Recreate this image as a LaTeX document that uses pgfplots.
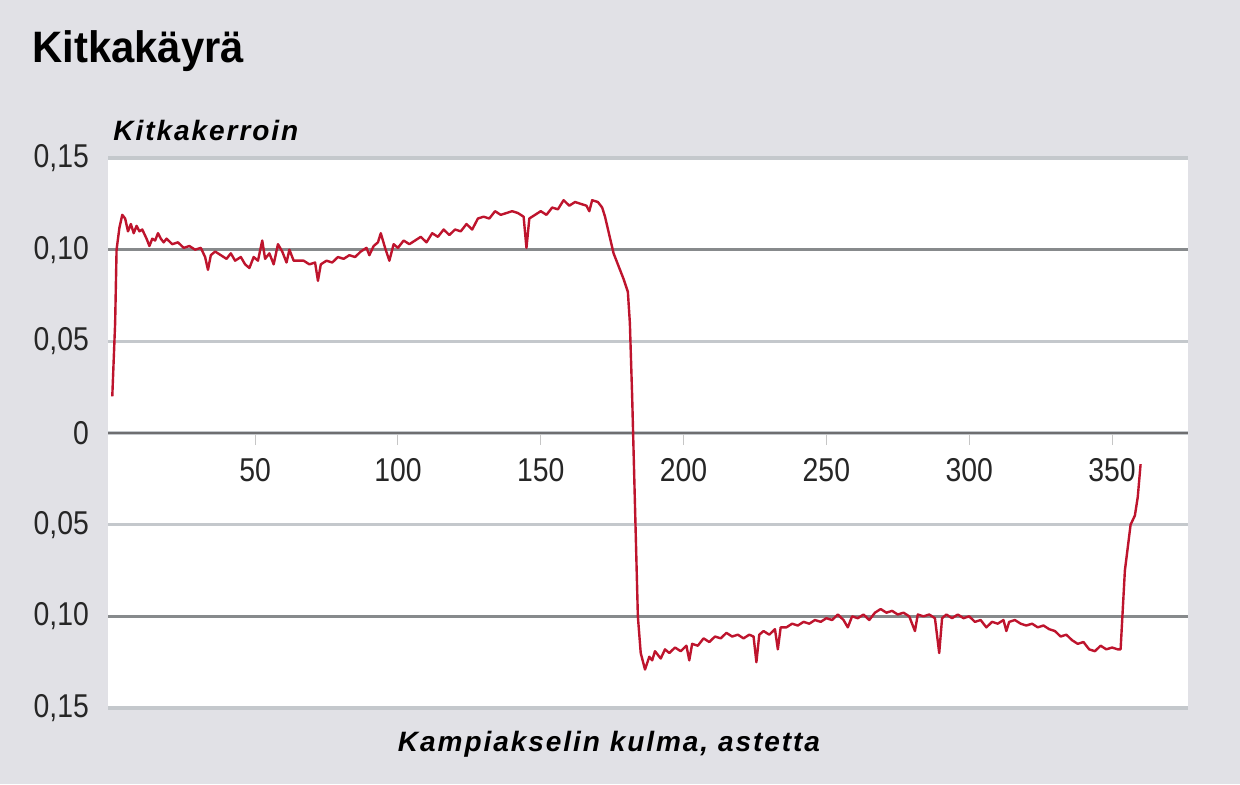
\documentclass[border=0pt]{standalone}
\usepackage{fontspec}
\setmainfont{Liberation Sans}
\newfontfamily\tickfont{Liberation Sans}[FakeStretch=0.86]
\newfontfamily\titlefont{Liberation Sans}[FakeStretch=0.95]
\newfontfamily\labelfont{Liberation Sans}[LetterSpace=7]
\usepackage{pgfplots}
\pgfplotsset{compat=1.18}

\definecolor{bggray}{RGB}{225,225,230}
\definecolor{lightgrid}{RGB}{196,200,204}
\definecolor{darkgrid}{RGB}{135,138,140}
\definecolor{zeroline}{RGB}{110,110,112}
\definecolor{curvered}{RGB}{190,20,45}

\pgfplotstableread{
x y
0 0.020
1 0.060
1.5 0.100
2.5 0.112
3.5 0.119
4.5 0.117
5.5 0.110
6.5 0.114
7.5 0.109
8.5 0.113
9.5 0.110
10.5 0.111
12 0.106
13 0.102
14 0.106
15 0.105
16 0.109
17 0.106
18 0.104
19 0.106
21 0.103
23 0.104
25 0.101
27 0.102
29 0.100
31 0.101
32.5 0.096
33.5 0.089
34.5 0.097
36 0.099
38 0.097
40 0.095
41.5 0.098
43 0.094
45 0.096
46.5 0.092
48 0.090
49.5 0.096
51 0.094
52.5 0.105
53.5 0.095
55 0.098
56.5 0.092
58 0.103
59.5 0.099
61 0.093
62 0.100
63.5 0.094
65 0.094
67 0.094
69 0.092
71 0.093
72 0.083
73 0.092
75 0.094
77 0.093
79 0.096
81 0.095
83 0.097
85 0.096
87 0.099
89 0.101
90 0.097
91.5 0.102
93 0.104
94 0.109
95.5 0.101
97 0.094
98.5 0.103
100 0.101
102 0.105
104 0.103
106 0.105
108 0.107
110 0.104
112 0.109
114 0.107
116 0.111
118 0.108
120 0.111
122 0.110
124 0.114
126 0.111
128 0.117
130 0.118
132 0.117
134 0.121
136 0.119
138 0.120
140 0.121
142 0.120
144 0.118
145 0.101
146 0.117
148 0.119
150 0.121
152 0.119
154 0.123
156 0.122
158 0.127
160 0.124
162 0.126
164 0.125
166 0.124
167 0.121
168 0.127
170 0.126
171.5 0.123
172.5 0.118
174 0.108
175.5 0.098
177 0.092
179 0.084
180.5 0.077
181.2 0.060
182 0.020
183 -0.040
184 -0.100
185 -0.120
186.5 -0.129
188 -0.122
189 -0.124
190 -0.119
192 -0.123
193.5 -0.118
195 -0.120
197 -0.117
199 -0.119
201 -0.116
202 -0.124
203 -0.115
205 -0.116
207 -0.112
209 -0.114
211 -0.111
213 -0.112
215 -0.109
217 -0.111
219 -0.110
221 -0.112
223 -0.110
224.5 -0.111
225.5 -0.125
226.5 -0.110
228 -0.108
230 -0.110
232 -0.107
233 -0.118
234 -0.106
236 -0.106
238 -0.104
240 -0.105
242 -0.103
244 -0.104
246 -0.102
248 -0.103
250 -0.101
252 -0.102
254 -0.099
256 -0.102
257.5 -0.106
259 -0.100
261 -0.101
263 -0.099
265 -0.102
267 -0.098
269 -0.096
271 -0.098
273 -0.097
275 -0.099
277 -0.098
279 -0.100
281 -0.108
282 -0.099
284 -0.100
286 -0.099
288 -0.101
289.5 -0.120
290.5 -0.101
292 -0.099
294 -0.101
296 -0.099
298 -0.101
300 -0.100
302 -0.103
304 -0.102
306 -0.106
308 -0.103
310 -0.104
312 -0.102
313 -0.108
314 -0.103
316 -0.102
318 -0.104
320 -0.105
322 -0.104
324 -0.106
326 -0.105
328 -0.107
330 -0.108
332 -0.111
334 -0.110
336 -0.113
338 -0.115
340 -0.114
342 -0.118
344 -0.119
346 -0.116
348 -0.118
350 -0.117
352 -0.118
353 -0.118
354.5 -0.075
356.5 -0.050
358 -0.045
359 -0.035
360 -0.017
}\kitka

\begin{document}
\begin{tikzpicture}
% page = 1240x784 px, 1 px = 0.5 pt, origin top left
\fill[bggray] (0,0) rectangle (620pt,-392pt);

\node[anchor=base west, inner sep=0pt, font=\titlefont\bfseries\fontsize{22}{22}\selectfont]
  at (16pt,-31pt) {Kitkakäyrä};
\node[anchor=base west, inner sep=0pt, font=\labelfont\bfseries\itshape\fontsize{14}{14}\selectfont]
  at (56.5pt,-70pt) {Kitkakerroin};
\node[anchor=base, inner sep=0pt, font=\labelfont\bfseries\itshape\fontsize{14}{14}\selectfont]
  at (304.5pt,-375.5pt) {Kampiakselin kulma, astetta};

\begin{axis}[
  at={(54pt,-354pt)}, anchor=south west,
  scale only axis, width=540pt, height=275pt,
  xmin=-1.5, xmax=376.6,
  ymin=-0.15, ymax=0.15,
  axis background/.style={fill=white},
  axis x line=middle, axis y line=left,
  x axis line style={-, draw=zeroline, line width=1.4pt},
  y axis line style={draw=none},
  xtick={50,100,...,350},
  tick align=outside,
  xtick style={draw=gray!45, line width=0.5pt},
  major tick length=6pt,
  ytick={-0.15,-0.05,0,0.05,0.15},
  yticklabels={{0,15},{0,05},0,{0,05},{0,15}},
  ytick style={draw=none},
  extra y ticks={-0.1,0.1},
  extra y tick labels={{0,10},{0,10}},
  extra y tick style={grid style={draw=darkgrid, line width=1.2pt}},
  ymajorgrids=true,
  grid style={draw=lightgrid, line width=1.8pt},
  /pgf/number format/assume math mode=true,
  ticklabel style={font=\tickfont\fontsize{16.5}{16.5}\selectfont, text=black!85},
  x tick label style={yshift=-3pt},
  clip=false,
]
\addplot[curvered, line width=1.2pt, line join=round] table[x=x, y=y] {\kitka};
\end{axis}
\end{tikzpicture}
\end{document}
